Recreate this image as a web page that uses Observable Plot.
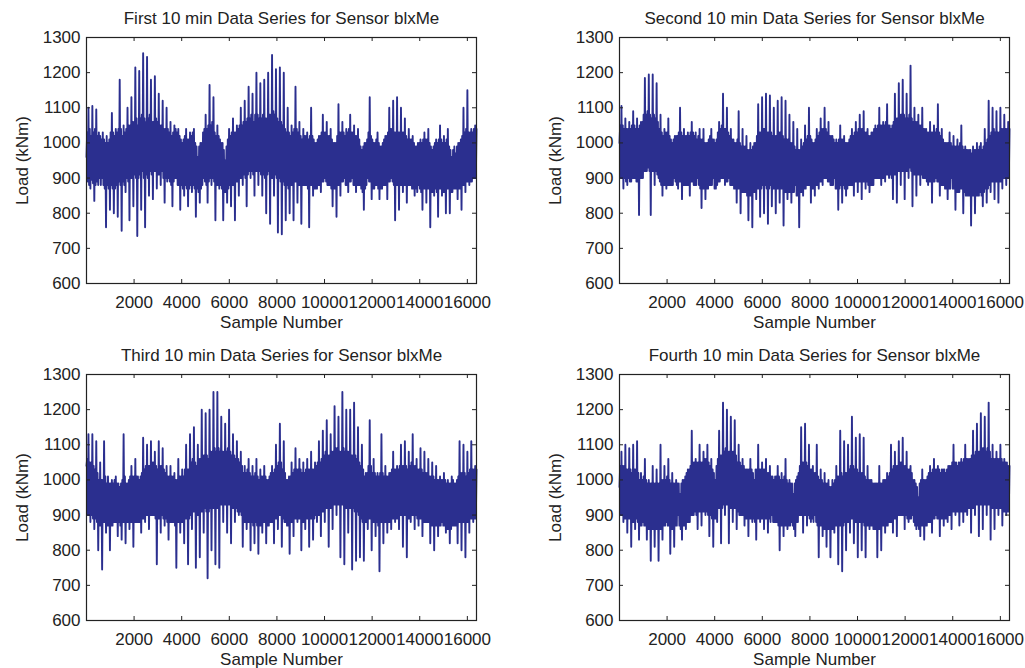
<!DOCTYPE html>
<html><head><meta charset="utf-8">
<script src="https://cdn.jsdelivr.net/npm/d3@7"></script>
<script src="https://cdn.jsdelivr.net/npm/@observablehq/plot@0.6"></script>
<style>
body{margin:0;background:#fff;}
#wrap{position:relative;width:1025px;height:668px;overflow:hidden;background:#fff;}
#wrap svg{position:absolute;}
</style></head><body><div id="wrap"></div>
<script>
const titles = [
  "First 10 min Data Series for Sensor blxMe",
  "Second 10 min Data Series for Sensor blxMe",
  "Third 10 min Data Series for Sensor blxMe",
  "Fourth 10 min Data Series for Sensor blxMe"
];
const xLabel = "Sample Number";
const yLabel = "Load (kNm)";
const yTicks = [600, 700, 800, 900, 1000, 1100, 1200, 1300];
const xTicks = [2000, 4000, 6000, 8000, 10000, 12000, 14000, 16000];
const nSamples = 16384;

// load values, evenly spaced over the samples
const series1 = [
  960,1030,890,1100,880,1040,870,1020,895,1105,885,1030,835,1040,880,1095,890,1020,880,1030,900,1020,880,1010,900,1030,880,1010,870,1000,
  760,1020,880,1000,870,1010,810,1030,880,1085,870,1030,800,1020,870,1040,880,1030,790,1040,890,1180,880,1040,750,1020,890,1050,880,1030,
  860,1040,900,1100,890,1050,780,1050,900,1130,900,1060,820,1060,910,1215,900,1070,735,1050,900,1205,910,1070,810,1080,920,1255,900,1070,
  760,1060,910,1245,900,1070,850,1080,920,1180,910,1060,840,1060,920,1190,920,1070,870,1060,910,1140,910,1050,880,1050,920,1120,900,1040,
  830,1040,900,1100,890,1040,900,1030,890,1060,880,1020,820,1030,890,1050,900,1040,900,1030,880,1040,880,1020,810,1010,880,1000,870,1010,
  850,1020,880,1040,870,1010,820,1010,870,1030,880,1020,860,1030,880,1040,870,1000,790,990,870,960,860,990,830,1000,870,1000,880,1030,
  900,1040,890,1080,880,1040,830,1050,890,1165,900,1050,880,1060,900,1130,890,1030,780,1020,880,1050,880,1020,870,1010,880,1000,870,1000,
  780,980,860,950,860,990,830,1010,870,1040,880,1020,820,1030,880,1070,880,1030,780,1030,890,1050,890,1040,850,1050,900,1100,900,1050,
  880,1060,910,1120,900,1060,820,1070,910,1160,920,1070,900,1080,920,1140,910,1060,850,1080,920,1200,920,1080,880,1070,920,1170,910,1070,
  850,1080,910,1180,900,1070,800,1070,910,1200,920,1080,770,1080,900,1250,900,1090,850,1080,910,1210,900,1070,745,1060,900,1215,890,1060,
  740,1050,890,1200,880,1040,780,1030,880,1100,870,1030,800,1020,880,1050,880,1030,780,1040,890,1160,890,1040,830,1030,880,1060,880,1020,
  770,1010,880,1040,880,1020,880,1020,880,1030,870,1010,760,1020,880,1100,880,1020,850,1010,870,1000,870,1000,870,1010,880,1020,880,1020,
  860,1030,890,1080,890,1030,900,1030,890,1060,880,1020,880,1020,880,1040,870,1010,820,1000,870,1000,870,1000,790,1020,880,1110,880,1030,
  850,1030,890,1060,890,1030,900,1020,880,1040,880,1030,860,1040,890,1080,890,1030,900,1030,880,1050,880,1020,860,1020,880,1040,880,1010,
  880,990,870,980,860,990,810,1000,870,1000,880,1010,900,1030,890,1130,890,1020,840,1010,870,1000,870,1000,880,1010,880,1030,870,1000,
  840,990,870,990,870,1000,880,1010,880,1020,880,1020,840,1030,890,1100,890,1040,900,1040,890,1120,880,1030,780,1030,880,1130,880,1030,
  810,1030,880,1100,880,1030,860,1030,880,1070,880,1020,830,1010,880,1040,880,1010,880,1010,870,1020,870,1000,850,990,870,990,860,1000,
  880,1000,870,1010,860,1000,810,1010,870,1030,870,1010,830,1010,870,1040,870,1000,760,990,860,980,860,990,850,1000,870,1010,860,1000,
  790,1010,870,1050,870,1010,850,1000,860,1020,860,1000,800,1010,870,1040,870,990,800,980,860,960,860,980,870,990,870,970,870,990,
  840,1000,870,1000,870,1010,810,1020,880,1100,880,1030,860,1040,890,1150,890,1030,880,1030,890,1040,890,1030,900,1040,900,1050,900,1040
];
const series2 = [
  1000,1050,900,1105,900,1050,870,1040,900,1070,890,1040,880,1040,900,1060,890,1040,890,1050,900,1090,900,1050,900,1040,890,1070,890,1040,
  795,1050,900,1060,900,1060,900,1080,920,1185,920,1080,920,1090,930,1195,920,1080,795,1070,920,1195,920,1080,880,1070,920,1170,910,1060,
  900,1040,890,1080,880,1030,850,1020,880,1040,880,1030,870,1030,880,1070,880,1020,880,1010,880,1000,880,1010,900,1020,890,1020,880,1020,
  870,1030,890,1100,890,1030,840,1020,880,1040,880,1020,880,1020,880,1030,880,1020,850,1030,890,1060,890,1030,880,1020,880,1030,880,1010,
  900,1020,880,1040,870,1010,815,1010,870,1040,870,1000,840,1000,870,1000,870,1010,880,1020,880,1040,880,1010,900,1010,870,1000,870,1010,
  880,1030,890,1060,890,1040,900,1050,900,1140,900,1040,880,1040,890,1100,890,1030,900,1020,880,1040,880,1010,880,1010,870,1000,870,1000,
  830,1010,870,1090,870,1000,800,990,860,1040,860,990,860,990,860,1020,850,980,780,980,850,1000,850,980,760,990,860,1000,860,1000,
  840,1020,870,1110,870,1030,790,1030,870,1130,880,1040,800,1040,880,1140,870,1030,770,1030,870,1135,880,1030,820,1020,870,1100,870,1020,
  800,1020,870,1120,870,1030,830,1030,870,1130,870,1020,765,1010,860,1120,860,1010,840,1010,860,1080,860,1000,830,1000,860,1060,860,990,
  880,980,850,1040,850,980,760,980,860,1010,860,990,850,1000,870,1050,870,1010,880,1020,880,1100,880,1020,830,1010,870,1000,870,1000,
  850,1010,880,1040,880,1020,870,1030,890,1070,890,1040,880,1040,900,1100,900,1040,900,1030,890,1060,890,1020,880,1020,880,1020,880,1010,
  900,1000,870,1010,870,1000,810,1010,870,1050,880,1010,830,1010,880,1020,870,1000,850,1000,870,1000,880,1010,880,1020,880,1040,880,1020,
  850,1030,890,1060,890,1030,860,1040,890,1080,890,1040,840,1040,890,1090,890,1030,870,1030,890,1040,880,1020,860,1020,880,1030,880,1030,
  880,1040,900,1050,900,1040,900,1050,900,1100,900,1050,880,1050,900,1060,900,1050,890,1060,910,1110,910,1050,900,1050,910,1040,900,1050,
  840,1060,910,1140,910,1070,830,1070,920,1170,920,1080,880,1080,920,1180,920,1080,840,1070,920,1140,920,1070,900,1080,930,1220,920,1070,
  820,1060,910,1100,910,1060,850,1060,910,1080,910,1050,880,1050,910,1100,900,1040,900,1040,900,1040,890,1030,880,1030,890,1060,890,1030,
  830,1030,890,1050,890,1030,900,1040,890,1110,890,1030,850,1020,880,1040,880,1010,880,1000,870,1000,870,1000,840,1000,870,1030,870,1000,
  900,990,870,1020,870,990,810,990,860,1010,860,990,860,1000,870,1050,870,990,800,980,860,990,850,980,850,980,850,980,850,980,
  765,970,850,990,850,980,800,980,850,1000,850,980,850,990,860,1000,850,980,820,990,860,1040,870,1000,830,1010,870,1120,880,1020,
  860,1030,890,1100,890,1040,840,1030,890,1090,890,1030,830,1030,890,1100,890,1040,870,1040,900,1080,900,1040,880,1040,900,1060,900,1040
];
const series3 = [
  1040,1060,900,1130,900,1050,880,1050,900,1130,890,1040,860,1030,890,1110,880,1020,800,1000,870,1050,870,1000,745,1000,880,1110,880,1010,
  850,990,870,1010,870,990,800,990,870,1000,870,990,880,1000,880,1010,880,990,840,990,880,980,870,990,830,1000,880,1130,880,1010,
  820,990,880,990,880,1000,860,1010,880,1040,880,1010,810,1010,880,1060,880,1010,880,1010,880,1000,880,1010,850,1020,890,1120,890,1030,
  880,1040,900,1100,900,1040,860,1040,900,1110,900,1050,900,1050,900,1080,890,1040,760,1030,890,1110,890,1040,850,1040,900,1090,890,1030,
  870,1020,890,1040,880,1010,830,1010,880,1040,880,1010,880,1010,880,1020,870,1000,750,1000,880,1060,880,1010,850,1010,880,1030,880,1010,
  820,1030,890,1100,890,1030,760,1030,890,1130,900,1050,860,1060,910,1150,910,1050,750,1040,900,1100,900,1060,780,1060,910,1200,910,1070,
  850,1070,920,1190,910,1070,720,1060,910,1200,920,1080,800,1080,920,1250,920,1090,760,1080,920,1250,920,1090,750,1080,930,1180,930,1080,
  880,1080,930,1160,930,1080,850,1090,930,1200,930,1080,820,1070,920,1130,920,1070,880,1060,920,1110,910,1060,900,1050,910,1080,900,1040,
  810,1020,880,1040,880,1020,860,1030,880,1060,880,1020,800,1010,880,1040,870,1010,820,1020,880,1060,870,1010,790,1000,870,1030,870,1010,
  850,1010,880,1040,880,1010,820,1000,870,1000,870,1010,880,1020,880,1040,880,1020,820,1030,890,1100,890,1040,860,1050,900,1160,900,1050,
  810,1030,890,1110,880,1020,880,1000,870,1000,870,1010,790,1010,880,1050,880,1020,840,1030,890,1090,890,1030,880,1030,890,1060,890,1030,
  800,1020,880,1050,880,1020,860,1030,890,1060,890,1030,810,1030,890,1080,890,1030,830,1030,890,1050,900,1040,880,1050,900,1110,900,1050,
  840,1060,910,1140,910,1070,880,1080,920,1170,920,1070,810,1070,920,1130,920,1080,860,1080,930,1210,930,1090,900,1090,930,1180,930,1080,
  780,1080,930,1250,930,1090,760,1080,920,1200,920,1080,850,1080,920,1200,920,1070,745,1070,920,1220,910,1070,770,1060,910,1150,900,1050,
  780,1040,890,1100,880,1030,770,1010,880,1020,880,1020,860,1040,890,1170,890,1040,800,1020,880,1060,880,1020,840,1010,880,1020,870,1010,
  740,1020,880,1130,880,1020,820,1010,880,1040,880,1010,850,1010,880,1020,880,1020,860,1030,890,1080,890,1030,880,1030,890,1040,890,1030,
  860,1040,900,1100,900,1040,810,1040,900,1110,900,1040,780,1030,890,1080,890,1040,880,1050,900,1130,900,1040,860,1040,900,1060,890,1030,
  870,1030,890,1090,890,1030,840,1020,880,1080,880,1020,880,1020,880,1060,880,1010,820,1010,870,1050,870,1010,800,1000,870,1040,870,1000,
  840,1000,870,1010,870,1000,880,1000,870,1020,870,1000,850,990,860,1000,860,990,820,990,860,1010,870,1000,870,990,870,990,870,1000,
  820,1010,880,1110,880,1020,800,1020,880,1100,880,1020,780,1010,880,1080,880,1020,850,1030,890,1110,890,1030,880,1030,890,1040,890,1030
];
const series4 = [
  980,1040,900,1080,900,1040,880,1040,890,1100,890,1030,850,1030,890,1090,890,1030,810,1020,880,1100,880,1030,860,1030,890,1110,880,1020,
  830,1000,870,1020,870,1000,880,1010,870,1060,870,1000,830,990,860,1000,860,990,770,990,860,1040,860,990,810,990,860,1030,860,990,
  770,990,860,1100,860,1000,830,1000,870,1040,870,1000,880,1010,870,1060,870,1000,790,990,860,1020,860,990,810,990,870,1000,870,990,
  900,990,870,960,860,990,830,1000,870,1000,870,1010,860,1020,880,1030,880,1030,880,1040,900,1140,900,1050,900,1050,910,1060,900,1050,
  860,1050,910,1100,910,1050,870,1050,910,1080,910,1060,900,1060,910,1100,900,1050,840,1040,900,1060,890,1030,810,1020,890,1000,890,1040,
  880,1060,920,1140,920,1070,820,1070,920,1220,930,1080,900,1090,930,1200,930,1080,820,1080,920,1180,920,1080,880,1080,920,1170,920,1070,
  860,1050,910,1100,900,1050,900,1040,900,1060,900,1040,870,1030,890,1030,890,1030,840,1030,890,1060,890,1030,880,1020,890,1000,880,1030,
  830,1030,890,1100,890,1030,880,1030,890,1050,890,1030,860,1030,890,1060,890,1020,850,1020,890,1040,880,1010,900,1010,880,1000,880,1010,
  880,1010,880,1040,870,1010,800,1000,870,1020,870,1000,840,1010,870,1060,870,1000,860,990,870,1000,870,990,880,990,870,960,860,990,
  840,1000,880,1010,880,1020,900,1040,900,1150,900,1050,850,1050,900,1160,900,1050,870,1040,900,1100,890,1030,880,1030,890,1040,880,1020,
  900,1020,880,1100,870,1010,780,1000,870,1030,870,1000,840,990,860,1020,860,990,810,990,860,1000,860,980,780,980,860,1000,860,990,
  850,1000,870,1040,870,1010,760,1010,870,1140,870,1020,740,1010,870,1110,880,1020,800,1020,880,1100,880,1030,850,1040,890,1180,890,1040,
  820,1030,880,1120,880,1030,780,1020,880,1130,880,1020,800,1020,880,1120,870,1010,780,1000,870,1040,870,1000,860,1000,870,1000,870,990,
  860,990,860,990,860,990,780,990,860,1040,860,990,800,990,870,1000,870,1000,850,1000,870,1020,870,1010,880,1020,880,1100,880,1030,
  850,1040,890,1080,890,1040,840,1040,900,1110,900,1050,900,1050,900,1120,900,1040,860,1040,900,1080,890,1030,880,1030,890,1040,890,1020,
  900,1000,880,1000,870,990,860,980,870,950,860,990,840,1000,870,1030,870,1000,830,1000,870,1000,870,1010,880,1020,880,1040,880,1020,
  850,1030,890,1060,890,1030,900,1030,890,1040,890,1030,840,1020,890,1030,890,1030,870,1030,890,1020,890,1030,880,1040,900,1040,900,1040,
  860,1050,910,1100,910,1050,900,1050,910,1040,910,1050,870,1050,910,1060,910,1050,880,1060,910,1100,910,1060,900,1060,920,1060,920,1060,
  850,1070,920,1140,920,1070,900,1080,930,1160,930,1080,840,1080,930,1190,930,1090,860,1090,930,1180,930,1080,900,1090,930,1220,930,1080,
  830,1060,920,1100,920,1060,860,1060,920,1080,920,1060,900,1060,920,1100,920,1060,870,1050,910,1060,910,1050,900,1050,910,1040,910,1040
];

const lineColor = "#2b2f8f";
const inkColor = "#222222";
const fontFamily = "'Liberation Sans', Arial, Helvetica, sans-serif";

function panel(values, title, left, top) {
  const n = values.length;
  const data = values.map((v, i) => ({sample: 1 + i * (nSamples - 1) / (n - 1), load: v}));
  const W = 506, H = 331, mL = 86, mR = 30, mT = 37, mB = 48;
  const fw = W - mL - mR, fh = H - mT - mB;
  const svg = Plot.plot({
    width: W, height: H,
    marginLeft: mL, marginRight: mR, marginTop: mT, marginBottom: mB,
    style: {fontFamily, fontSize: "17px", color: inkColor, background: "white", overflow: "visible"},
    x: {domain: [1, nSamples]},
    y: {domain: [600, 1300]},
    marks: [
      Plot.line(data, {x: "sample", y: "load", stroke: lineColor, strokeWidth: 1.9}),
      Plot.tickY(yTicks, {y: d => d, insetRight: fw - 4, stroke: inkColor}),
      Plot.tickY(yTicks, {y: d => d, insetLeft: fw - 4, stroke: inkColor}),
      Plot.tickX(xTicks, {x: d => d, insetTop: fh - 4, stroke: inkColor}),
      Plot.tickX(xTicks, {x: d => d, insetBottom: fh - 4, stroke: inkColor}),
      Plot.frame({stroke: inkColor, strokeWidth: 1.2}),
      Plot.axisY(yTicks, {tickSize: 0, tickPadding: 6, label: null, tickFormat: d => String(d)}),
      Plot.axisX(xTicks, {tickSize: 0, tickPadding: 12, label: null, tickFormat: d => String(d)}),
      Plot.text([yLabel], {text: d => d, frameAnchor: "left", rotate: -90, dx: -64, lineAnchor: "middle", textAnchor: "middle"}),
      Plot.text([xLabel], {text: d => d, frameAnchor: "bottom", dy: 39.5, lineAnchor: "middle"}),
      Plot.text([title], {text: d => d, frameAnchor: "top", dy: -19, lineAnchor: "middle"})
    ]
  });
  svg.style.left = left + "px";
  svg.style.top = top + "px";
  document.getElementById("wrap").appendChild(svg);
}

panel(series1, titles[0], 0, 0);
panel(series2, titles[1], 533, 0);
panel(series3, titles[2], 0, 337);
panel(series4, titles[3], 533, 337);
</script>
</body></html>
